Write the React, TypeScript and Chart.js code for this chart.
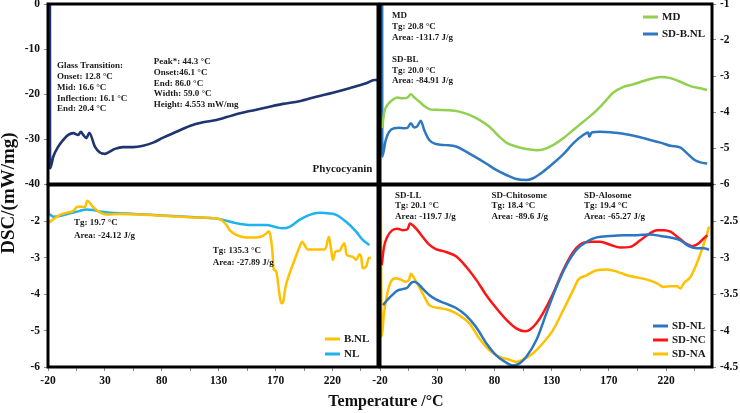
import React, { useEffect, useRef } from 'react';
import { Chart, registerables } from 'chart.js';

Chart.register(...registerables);

const SERIF = '"Liberation Serif", "Times New Roman", serif';

// Shared temperature axis: evenly spaced ticks carrying the printed labels
const X_MIN = -20;
const X_MAX = 270;
const xTickLabels = ['-20', '30', '80', '130', '170', '220'];

// Y tick values of each panel
const phycoTicks = [0, -10, -20, -30, -40];
const mdTicks = [-1, -2, -3, -4, -5, -6];
const nlTicks = [-2, -3, -4, -5, -6];
const sdTicks = [-2.5, -3, -3.5, -4, -4.5];

type Pt = [number, number];

// Phycocyanin (mW/mg)
const phycocyanin: Pt[] = [
  [-18.3, 0.5], [-18.2, -36.5], [-15.3, -33.9], [-11.0, -31.7], [-6.6, -30.2], [-2.2, -29.1],
  [2.2, -28.7], [6.6, -29.1], [8.9, -28.4], [11.0, -29.1], [13.9, -29.8], [16.2, -28.6],
  [21.2, -31.7], [25.6, -33.0], [30.0, -33.3], [34.4, -32.8], [38.8, -32.2], [46.0, -31.8],
  [54.8, -31.8], [63.6, -31.5], [72.4, -30.8], [81.2, -29.7], [92.9, -28.4], [104.6, -27.1],
  [116.3, -26.3], [128.0, -25.8], [142.6, -24.7], [157.2, -23.8], [171.8, -23.0], [186.4, -22.2],
  [201.0, -21.6], [215.7, -20.6], [230.3, -19.7], [244.9, -18.7], [259.6, -17.6], [266.8, -16.9],
  [269.5, -16.9],
];

// MD and SD-B.NL (mW/mg)
const md: Pt[] = [
  [-18.0, -4.45], [-16.5, -4.04], [-13.6, -3.81], [-9.2, -3.67], [-4.8, -3.60], [-0.4, -3.62],
  [4.0, -3.60], [6.9, -3.51], [9.8, -3.59], [14.2, -3.71], [18.6, -3.83], [23.0, -3.92],
  [28.8, -3.94], [40.5, -3.95], [49.3, -3.99], [58.1, -4.08], [66.8, -4.22], [75.6, -4.41],
  [84.4, -4.69], [90.3, -4.85], [99.0, -4.96], [107.8, -5.03], [116.6, -5.06], [122.4, -5.04],
  [131.2, -4.92], [140.0, -4.73], [148.8, -4.50], [157.5, -4.27], [166.3, -4.04], [175.1, -3.76],
  [183.9, -3.46], [192.7, -3.30], [201.4, -3.23], [210.2, -3.14], [219.0, -3.06], [226.2, -3.03],
  [233.5, -3.06], [242.3, -3.16], [251.1, -3.28], [259.8, -3.34], [265.7, -3.39],
];

const sdBnl: Pt[] = [
  [-18.1, -0.9], [-18.0, -5.24], [-15.0, -4.78], [-12.1, -4.55], [-7.7, -4.45], [-3.3, -4.44],
  [1.1, -4.45], [4.0, -4.44], [6.9, -4.31], [9.8, -4.43], [12.7, -4.39], [15.6, -4.24],
  [18.6, -4.50], [23.0, -4.78], [28.8, -4.89], [37.6, -4.92], [46.4, -4.96], [55.1, -5.10],
  [63.9, -5.26], [72.7, -5.43], [81.5, -5.61], [90.3, -5.75], [99.0, -5.86], [107.8, -5.89],
  [113.7, -5.84], [122.4, -5.66], [131.2, -5.43], [140.0, -5.18], [148.8, -4.87], [157.5, -4.64],
  [161.9, -4.57], [162.8, -4.69], [164.9, -4.57], [172.2, -4.55], [181.0, -4.56], [189.8, -4.59],
  [198.6, -4.64], [207.3, -4.70], [216.1, -4.78], [224.9, -4.85], [233.7, -4.94], [242.5, -4.99],
  [248.3, -5.15], [254.2, -5.32], [260.0, -5.40], [265.8, -5.43],
];

// B.NL and NL (mW/mg)
const bnl: Pt[] = [
  [-19.7, -2.04], [-15.3, -1.94], [-9.5, -1.82], [-3.6, -1.76], [2.2, -1.71], [5.7, -1.60],
  [9.6, -1.60], [12.5, -1.61], [14.5, -1.43], [16.8, -1.49], [19.7, -1.61], [25.6, -1.75],
  [31.5, -1.81], [43.2, -1.80], [60.7, -1.81], [84.1, -1.85], [107.5, -1.89], [125.0, -1.91],
  [132.4, -1.96], [136.8, -2.10], [139.6, -2.24], [145.5, -2.37], [154.3, -2.44], [163.0, -2.44],
  [168.9, -2.40], [171.8, -2.33], [174.1, -2.28], [175.3, -2.37], [177.1, -2.79], [178.2, -3.29],
  [180.6, -3.38], [182.9, -3.88], [185.0, -4.25], [186.4, -4.23], [188.8, -3.79], [192.3, -3.43],
  [196.7, -3.06], [201.0, -2.70], [203.4, -2.56], [205.4, -2.65], [208.3, -2.77], [214.2, -2.77],
  [223.0, -2.77], [224.5, -2.70], [226.8, -2.42], [228.9, -2.79], [230.3, -3.06], [232.6, -2.83],
  [236.1, -2.81], [239.1, -2.65], [240.5, -2.60], [242.5, -2.92], [247.8, -2.97], [250.8, -3.06],
  [253.7, -2.90], [255.2, -2.97], [256.6, -3.29], [259.6, -3.24], [261.9, -3.01], [263.9, -3.00],
];

const nl: Pt[] = [
  [-19.9, -0.95], [-19.7, -1.73], [-18.2, -1.82], [-15.3, -1.87], [-9.5, -1.85], [-0.7, -1.78],
  [8.1, -1.71], [13.9, -1.67], [19.7, -1.69], [25.6, -1.73], [34.4, -1.76], [49.0, -1.78],
  [69.5, -1.82], [89.9, -1.85], [113.3, -1.89], [128.0, -1.92], [136.8, -1.98], [142.6, -2.03],
  [154.3, -2.09], [166.0, -2.10], [171.8, -2.10], [180.6, -2.16], [186.4, -2.19], [192.3, -2.15],
  [201.0, -1.96], [209.8, -1.82], [218.6, -1.76], [227.4, -1.78], [233.2, -1.82], [242.0, -2.01],
  [250.8, -2.28], [256.6, -2.51], [262.5, -2.65],
];

// SD-NL, SD-NC and SD-NA (mW/mg)
const sdNl: Pt[] = [
  [-17.4, -3.65], [-13.6, -3.58], [-9.2, -3.51], [-4.8, -3.45], [-0.4, -3.43], [4.0, -3.41],
  [6.9, -3.35], [9.8, -3.33], [12.7, -3.35], [17.1, -3.42], [23.0, -3.51], [28.8, -3.57],
  [37.6, -3.63], [46.4, -3.69], [55.1, -3.79], [63.9, -3.95], [72.7, -4.17], [81.5, -4.34],
  [90.3, -4.44], [96.1, -4.48], [102.0, -4.45], [107.8, -4.36], [116.6, -4.13], [125.4, -3.76],
  [134.1, -3.40], [142.9, -3.10], [151.7, -2.89], [160.5, -2.78], [169.3, -2.72], [181.0, -2.70],
  [192.7, -2.69], [204.4, -2.69], [216.1, -2.68], [224.9, -2.70], [233.7, -2.72], [242.5, -2.76],
  [249.8, -2.84], [257.1, -2.87], [263.0, -2.87], [267.4, -2.89],
];

const sdNc: Pt[] = [
  [-18.5, -3.10], [-16.5, -2.85], [-13.6, -2.71], [-9.2, -2.62], [-4.8, -2.60], [-0.4, -2.62],
  [4.0, -2.61], [6.1, -2.53], [8.4, -2.55], [12.7, -2.62], [17.1, -2.71], [23.0, -2.82],
  [28.8, -2.88], [37.6, -2.92], [46.4, -2.98], [55.1, -3.12], [63.9, -3.30], [72.7, -3.51],
  [81.5, -3.69], [90.3, -3.85], [99.0, -3.97], [106.3, -4.01], [110.7, -3.99], [116.6, -3.90],
  [122.4, -3.76], [131.2, -3.49], [140.0, -3.17], [148.8, -2.92], [154.6, -2.82], [163.4, -2.78],
  [172.2, -2.78], [181.0, -2.82], [189.8, -2.86], [198.6, -2.85], [207.3, -2.76], [216.1, -2.66],
  [222.0, -2.62], [227.8, -2.62], [233.7, -2.64], [239.5, -2.71], [246.8, -2.80], [252.7, -2.84],
  [258.5, -2.80], [263.0, -2.73], [265.9, -2.69],
];

const sdNa: Pt[] = [
  [-19.4, -1.95], [-18.5, -4.08], [-16.5, -3.76], [-13.6, -3.49], [-10.6, -3.33], [-6.2, -3.28],
  [-1.8, -3.30], [2.5, -3.33], [5.4, -3.30], [6.9, -3.22], [9.8, -3.28], [14.2, -3.40],
  [18.6, -3.53], [23.0, -3.65], [31.8, -3.69], [40.5, -3.72], [49.3, -3.79], [58.1, -3.90],
  [66.8, -4.11], [75.6, -4.27], [84.4, -4.36], [93.2, -4.40], [99.0, -4.43], [104.9, -4.40],
  [113.7, -4.31], [122.4, -4.17], [131.2, -3.99], [140.0, -3.72], [148.8, -3.44], [153.2, -3.30],
  [160.5, -3.24], [169.3, -3.17], [178.1, -3.16], [186.9, -3.19], [195.7, -3.24], [204.4, -3.27],
  [213.2, -3.30], [222.0, -3.35], [227.8, -3.40], [233.7, -3.39], [239.5, -3.39], [242.5, -3.42],
  [245.4, -3.35], [251.3, -3.26], [255.6, -3.12], [260.0, -2.94], [263.0, -2.80], [265.9, -2.66],
  [267.4, -2.57],
];

// Annotation text
const glassTransition = ['Glass Transition:', 'Onset: 12.8 °C', 'Mid: 16.6 °C', 'Inflection: 16.1 °C', 'End: 20.4 °C'];
const peakInfo = ['Peak*: 44.3 °C', 'Onset:46.1 °C', 'End: 86.0 °C', 'Width: 59.0 °C', 'Height: 4.553 mW/mg'];
const mdInfo = ['MD', 'Tg: 20.8 °C', 'Area: -131.7 J/g'];
const sdBlInfo = ['SD-BL', 'Tg: 20.0 °C', 'Area: -84.91 J/g'];
const nlInfo = ['Tg: 19.7 °C', 'Area: -24.12 J/g'];
const bnlInfo = ['Tg: 135.3 °C', 'Area: -27.89 J/g'];
const sdLlInfo = ['SD-LL', 'Tg: 20.1 °C', 'Area: -119.7 J/g'];
const chitosomeInfo = ['SD-Chitosome', 'Tg: 18.4 °C', 'Area: -89.6 J/g'];
const alosomeInfo = ['SD-Alosome', 'Tg: 19.4 °C', 'Area: -65.27 J/g'];

type Note = { x: number; y: number; lines: string[]; size: number; lh: number };
type LegendCfg = { dx: number; dy: number; gap: number } | null;

type Series = { label: string; data: Pt[]; color: string; width?: number };

type PanelCfg = {
  series: Series[];
  yMin: number;
  yMax: number;
  yTicks: number[];
  yPos: 'left' | 'right';
  showX: boolean;
  padding: { left: number; right: number; top: number; bottom: number };
  notes: Note[];
  legend: LegendCfg;
};

const framePlugin = {
  id: 'panelFrame',
  afterDatasetsDraw(chart: Chart) {
    const { ctx, chartArea: a } = chart;
    ctx.save();
    ctx.strokeStyle = '#000';
    ctx.lineWidth = 3;
    ctx.strokeRect(a.left, a.top, a.right - a.left, a.bottom - a.top);
    ctx.restore();
  },
};

function notesPlugin(notes: Note[]) {
  return {
    id: 'panelNotes',
    afterDatasetsDraw(chart: Chart) {
      const { ctx, scales } = chart;
      ctx.save();
      ctx.fillStyle = '#1a1a1a';
      ctx.textAlign = 'left';
      ctx.textBaseline = 'middle';
      for (const n of notes) {
        ctx.font = `bold ${n.size}px ${SERIF}`;
        const px = scales.x.getPixelForValue(n.x);
        const py = scales.y.getPixelForValue(n.y);
        n.lines.forEach((t, i) => ctx.fillText(t, px, py + i * n.lh));
      }
      ctx.restore();
    },
  };
}

function legendPlugin(cfg: LegendCfg) {
  return {
    id: 'panelLegend',
    afterDatasetsDraw(chart: Chart) {
      if (!cfg) return;
      const { ctx, chartArea: a } = chart;
      ctx.save();
      ctx.font = `bold 11px ${SERIF}`;
      ctx.textAlign = 'left';
      ctx.textBaseline = 'middle';
      chart.data.datasets.forEach((ds: any, i: number) => {
        const x = a.left + cfg.dx;
        const y = a.top + cfg.dy + i * cfg.gap;
        ctx.strokeStyle = ds.borderColor;
        ctx.lineWidth = 3;
        ctx.beginPath();
        ctx.moveTo(x, y);
        ctx.lineTo(x + 15, y);
        ctx.stroke();
        ctx.fillStyle = '#1a1a1a';
        ctx.fillText(ds.label, x + 19, y + 0.5);
      });
      ctx.restore();
    },
  };
}

const tickFont = { family: SERIF, size: 11.5, weight: 'bold' as const };

function buildPanel(canvas: HTMLCanvasElement, cfg: PanelCfg) {
  return new Chart(canvas, {
    type: 'line',
    data: {
      datasets: cfg.series.map((s) => ({
        label: s.label,
        data: s.data.map(([x, y]) => ({ x, y })),
        borderColor: s.color,
        backgroundColor: s.color,
        borderWidth: s.width ?? 2.5,
        pointRadius: 0,
        cubicInterpolationMode: 'monotone' as const,
        fill: false,
      })),
    },
    options: {
      responsive: false,
      animation: false,
      events: [],
      layout: { padding: cfg.padding },
      plugins: { legend: { display: false }, tooltip: { enabled: false } },
      scales: {
        x: {
          type: 'linear',
          min: X_MIN,
          max: X_MAX,
          display: cfg.showX,
          grid: { drawOnChartArea: false, color: '#8c8c8c', tickLength: 4 },
          border: { display: false },
          afterBuildTicks: (s: any) => {
            const t = [];
            for (let v = X_MIN; v < X_MAX; v += 25) t.push({ value: v });
            s.ticks = t;
          },
          ticks: {
            autoSkip: false,
            maxRotation: 0,
            padding: 3,
            color: '#111',
            font: tickFont,
            callback: (_v: any, i: number) => (i % 2 === 0 ? xTickLabels[i / 2] ?? '' : ''),
          },
          afterFit: (s: any) => {
            s.height = cfg.showX ? 46 : 0;
            s.paddingLeft = 0;
            s.paddingRight = 0;
          },
        },
        y: {
          type: 'linear',
          position: cfg.yPos,
          min: cfg.yMin,
          max: cfg.yMax,
          grid: { drawOnChartArea: false, color: '#8c8c8c', tickLength: 4 },
          border: { display: false },
          afterBuildTicks: (s: any) => {
            s.ticks = cfg.yTicks.map((v) => ({ value: v }));
          },
          ticks: {
            autoSkip: false,
            padding: 4,
            color: '#111',
            font: tickFont,
            callback: (v: any) => String(v),
          },
          afterFit: (s: any) => {
            s.width = cfg.yPos === 'left' ? 48 : 28;
            s.paddingTop = 0;
            s.paddingBottom = 0;
          },
        },
      },
    },
    plugins: [framePlugin, notesPlugin(cfg.notes), legendPlugin(cfg.legend)],
  } as any);
}

function buildTitles(canvas: HTMLCanvasElement) {
  return new Chart(canvas, {
    type: 'line',
    data: { datasets: [] },
    options: {
      responsive: false,
      animation: false,
      events: [],
      layout: { padding: { left: 0, right: 28, top: 6, bottom: 3 } },
      plugins: { legend: { display: false }, tooltip: { enabled: false } },
      scales: {
        x: {
          type: 'linear',
          min: 0,
          max: 1,
          grid: { display: false },
          border: { display: false },
          ticks: { display: false },
          title: {
            display: true,
            text: 'Temperature /°C',
            color: '#111',
            padding: 0,
            font: { family: SERIF, size: 16, weight: 'bold', lineHeight: 1 },
          },
          afterFit: (s: any) => {
            s.height = 30;
            s.paddingLeft = 0;
            s.paddingRight = 0;
          },
        },
        y: {
          type: 'linear',
          min: 0,
          max: 1,
          grid: { display: false },
          border: { display: false },
          ticks: { display: false },
          title: {
            display: true,
            text: 'DSC/(mW/mg)',
            color: '#111',
            padding: 0,
            font: { family: SERIF, size: 19, weight: 'bold', lineHeight: 1 },
          },
          afterFit: (s: any) => {
            s.width = 60;
            s.paddingTop = 0;
            s.paddingBottom = 0;
          },
        },
      },
    },
  } as any);
}

const panels: PanelCfg[] = [
  {
    series: [{ label: 'Phycocyanin', data: phycocyanin, color: '#1f3470', width: 2.6 }],
    yMin: -40,
    yMax: 0,
    yTicks: phycoTicks,
    yPos: 'left',
    showX: false,
    padding: { left: 0, right: 362, top: 4, bottom: 229 },
    notes: [
      { x: -12.1, y: -13.8, lines: glassTransition, size: 9, lh: 10.7 },
      { x: 73, y: -12.9, lines: peakInfo, size: 9, lh: 10.7 },
      { x: 212.5, y: -36.7, lines: ['Phycocyanin'], size: 11, lh: 12 },
    ],
    legend: null,
  },
  {
    series: [
      { label: 'MD', data: md, color: '#92d050' },
      { label: 'SD-B.NL', data: sdBnl, color: '#2e78c2' },
    ],
    yMin: -6,
    yMax: -1,
    yTicks: mdTicks,
    yPos: 'right',
    showX: false,
    padding: { left: 380, right: 0, top: 4, bottom: 229 },
    notes: [
      { x: -9.5, y: -1.33, lines: mdInfo, size: 9, lh: 11 },
      { x: -9.5, y: -2.56, lines: sdBlInfo, size: 9, lh: 10.5 },
    ],
    legend: { dx: 263, dy: 13, gap: 17 },
  },
  {
    series: [
      { label: 'B.NL', data: bnl, color: '#ffc000' },
      { label: 'NL', data: nl, color: '#1eb2ee' },
    ],
    yMin: -6,
    yMax: -1,
    yTicks: nlTicks,
    yPos: 'left',
    showX: true,
    padding: { left: 0, right: 362, top: 185, bottom: 0 },
    notes: [
      { x: 2.8, y: -2.04, lines: nlInfo, size: 9, lh: 13 },
      { x: 124.7, y: -2.81, lines: bnlInfo, size: 9, lh: 12 },
    ],
    legend: { dx: 277, dy: 154, gap: 15 },
  },
  {
    series: [
      { label: 'SD-NL', data: sdNl, color: '#2a76c2' },
      { label: 'SD-NC', data: sdNc, color: '#ff1414' },
      { label: 'SD-NA', data: sdNa, color: '#ffc000' },
    ],
    yMin: -4.5,
    yMax: -2,
    yTicks: sdTicks,
    yPos: 'right',
    showX: true,
    padding: { left: 380, right: 0, top: 185, bottom: 0 },
    notes: [
      { x: -6.8, y: -2.14, lines: sdLlInfo, size: 9, lh: 10.5 },
      { x: 77.4, y: -2.14, lines: chitosomeInfo, size: 9, lh: 10.5 },
      { x: 158.1, y: -2.14, lines: alosomeInfo, size: 9, lh: 10.5 },
    ],
    legend: { dx: 273, dy: 141, gap: 14 },
  },
];

const W = 740;
const H = 413;

export default function App() {
  const refs = useRef<(HTMLCanvasElement | null)[]>([]);

  useEffect(() => {
    const charts: Chart[] = [];
    panels.forEach((p, i) => {
      const c = refs.current[i];
      if (c) charts.push(buildPanel(c, p));
    });
    const t = refs.current[panels.length];
    if (t) charts.push(buildTitles(t));
    return () => charts.forEach((c) => c.destroy());
  }, []);

  return (
    <div style={{ position: 'absolute', left: 0, top: 0, width: W, height: H, background: '#fff' }}>
      {[...panels, null].map((_, i) => (
        <canvas
          key={i}
          ref={(el) => {
            refs.current[i] = el;
          }}
          width={W}
          height={H}
          style={{ position: 'absolute', left: 0, top: 0, width: W, height: H }}
        />
      ))}
    </div>
  );
}
